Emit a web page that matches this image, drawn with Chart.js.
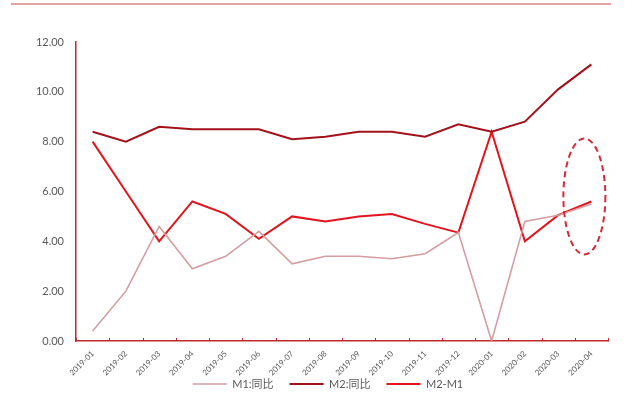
<!DOCTYPE html>
<html>
<head>
<meta charset="utf-8">
<script src="https://cdn.jsdelivr.net/npm/chart.js@4"></script>
<style>
  html, body { margin: 0; padding: 0; background: #fff; }
  #wrap { position: relative; width: 640px; height: 396px; }
  #topline { position: absolute; left: 11px; top: 3px; width: 600px; border-top: 2px solid #e3a3a5; }
</style>
</head>
<body>
<div id="wrap">
  <div id="topline"></div>
  <canvas id="lineChart" width="640" height="396"></canvas>
</div>
<script>
const months = [
  '2019-01', '2019-02', '2019-03', '2019-04', '2019-05', '2019-06', '2019-07', '2019-08',
  '2019-09', '2019-10', '2019-11', '2019-12', '2020-01', '2020-02', '2020-03', '2020-04'
];
const m1 = [0.4, 2.0, 4.6, 2.9, 3.4, 4.4, 3.1, 3.4, 3.4, 3.3, 3.5, 4.35, 0.0, 4.8, 5.05, 5.5];
const m2 = [8.4, 8.0, 8.6, 8.5, 8.5, 8.5, 8.1, 8.2, 8.4, 8.4, 8.2, 8.7, 8.4, 8.8, 10.1, 11.1];
const m2m1 = [8.0, 6.0, 4.0, 5.6, 5.1, 4.1, 5.0, 4.8, 5.0, 5.1, 4.7, 4.35, 8.4, 4.0, 5.05, 5.6];
const yTicks = [0, 2, 4, 6, 8, 10, 12];

const axisRed = '#c0282d';
const fontFam = "Lato, 'Noto Sans CJK SC', sans-serif";

// dashed ellipse round the last points, and inside tick marks on the x axis
const extras = {
  id: 'extras',
  afterLayout(chart) {
    // let the tick labels spill out of the axis boxes instead of being clipped
    chart.scales.x.bottom = chart.height;
    chart.scales.y.left = 0;
  },
  afterDatasetsDraw(chart) {
    const ctx = chart.ctx;
    const x = chart.scales.x, y = chart.scales.y;
    ctx.save();
    // x ticks pointing up into the plot
    ctx.strokeStyle = axisRed;
    ctx.lineWidth = 1;
    const step = (x.right - x.left) / months.length;
    for (let i = 0; i <= months.length; i++) {
      const px = Math.round(x.left + i * step) + 0.5;
      ctx.beginPath();
      ctx.moveTo(px, y.bottom);
      ctx.lineTo(px, y.bottom - 3);
      ctx.stroke();
    }
    // ellipse
    const cx = x.getPixelForValue(months.length - 1) - 7;
    const cy = y.getPixelForValue(5.8);
    ctx.strokeStyle = '#d42a35';
    ctx.lineWidth = 2;
    ctx.setLineDash([6, 4]);
    ctx.beginPath();
    ctx.ellipse(cx, cy, 21, 58, 0, 0, Math.PI * 2);
    ctx.stroke();
    ctx.restore();
  }
};

const ctx = document.getElementById('lineChart').getContext('2d');
const chart = new Chart(ctx, {
  type: 'line',
  data: {
    labels: months,
    datasets: [
      { label: 'M1:同比', data: m1, borderColor: '#d49ea0', backgroundColor: '#d49ea0', borderWidth: 1.6 },
      { label: 'M2:同比', data: m2, borderColor: '#a3111b', backgroundColor: '#a3111b', borderWidth: 2 },
      { label: 'M2-M1', data: m2m1, borderColor: '#e2141e', backgroundColor: '#e2141e', borderWidth: 2 }
    ]
  },
  options: {
    responsive: false,
    animation: false,
    elements: { point: { radius: 0 }, line: { tension: 0 } },
    layout: { padding: { top: 42, right: 32, left: 48, bottom: -3.5 } },
    plugins: {
      tooltip: { enabled: false },
      legend: {
        position: 'bottom',
        labels: {
          usePointStyle: true,
          pointStyle: 'line',
          pointStyleWidth: 34,
          padding: 16,
          color: '#595959',
          font: { family: fontFam, size: 11 }
        }
      }
    },
    scales: {
      x: {
        offset: true,
        afterFit(s) { s.height = 21.5; },
        grid: { display: false, drawTicks: false },
        border: { color: axisRed, width: 1.5 },
        ticks: {
          maxRotation: 45,
          minRotation: 45,
          padding: 8,
          color: '#595959',
          font: { family: fontFam, size: 8 }
        }
      },
      y: {
        min: 0,
        max: 12,
        afterFit(s) { s.width = 28; },
        afterBuildTicks(s) { s.ticks = yTicks.map(v => ({ value: v })); },
        grid: { display: false, drawTicks: false },
        border: { color: axisRed, width: 1.5 },
        ticks: {
          padding: 12,
          color: '#595959',
          font: { family: fontFam, size: 11 },
          callback: v => v.toFixed(2)
        }
      }
    }
  },
  plugins: [extras]
});
</script>
</body>
</html>
